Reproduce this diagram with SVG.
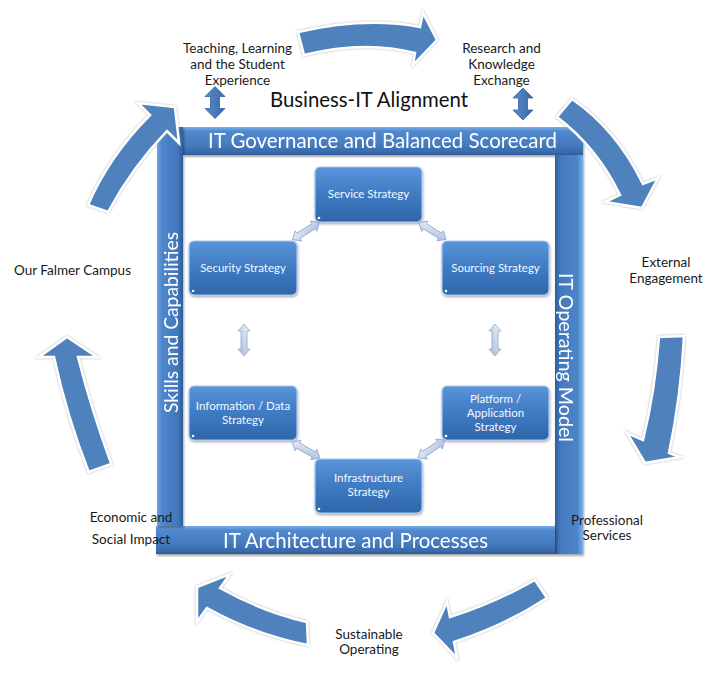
<svg xmlns="http://www.w3.org/2000/svg" width="727" height="677" viewBox="0 0 727 677">
<defs>
  <linearGradient id="gBarH" x1="0" y1="0" x2="0" y2="1">
    <stop offset="0" stop-color="#7aaee8"/>
    <stop offset="0.15" stop-color="#5189cf"/>
    <stop offset="0.6" stop-color="#467cc0"/>
    <stop offset="0.9" stop-color="#3a6aab"/>
    <stop offset="1" stop-color="#2d5a96"/>
  </linearGradient>
  <linearGradient id="gBarL" x1="0" y1="0" x2="1" y2="0">
    <stop offset="0" stop-color="#6ea3e3"/>
    <stop offset="0.2" stop-color="#4e86cc"/>
    <stop offset="0.8" stop-color="#4177bb"/>
    <stop offset="1" stop-color="#2e5c99"/>
  </linearGradient>
  <linearGradient id="gBarR" x1="0" y1="0" x2="1" y2="0">
    <stop offset="0" stop-color="#2f5e9c"/>
    <stop offset="0.2" stop-color="#4479bd"/>
    <stop offset="0.8" stop-color="#4d85cb"/>
    <stop offset="1" stop-color="#7cb0ea"/>
  </linearGradient>
  <linearGradient id="gNode" x1="0" y1="0" x2="0" y2="1">
    <stop offset="0" stop-color="#5a94d9"/>
    <stop offset="0.5" stop-color="#3f7bc3"/>
    <stop offset="1" stop-color="#2e65aa"/>
  </linearGradient>
  <linearGradient id="gLight" x1="0" y1="0" x2="1" y2="1">
    <stop offset="0" stop-color="#f2f5fa"/>
    <stop offset="1" stop-color="#a3b7d6"/>
  </linearGradient>
  <linearGradient id="gDark" x1="0" y1="0" x2="1" y2="0">
    <stop offset="0" stop-color="#5a8ccc"/>
    <stop offset="1" stop-color="#3b68a6"/>
  </linearGradient>
  <filter id="shBar" x="-10%" y="-10%" width="120%" height="120%">
    <feDropShadow dx="1" dy="2" stdDeviation="1.2" flood-color="#000" flood-opacity="0.35"/>
  </filter>
  <filter id="halo" x="-20%" y="-20%" width="140%" height="140%">
    <feDropShadow dx="0" dy="0" stdDeviation="0.9" flood-color="#8a8a8a" flood-opacity="0.7"/>
  </filter>
  <filter id="shNode" x="-10%" y="-10%" width="120%" height="130%">
    <feDropShadow dx="0.5" dy="1.5" stdDeviation="1" flood-color="#000" flood-opacity="0.35"/>
  </filter>
  <polygon id="dblLight" points="-16,0 -9,-6 -9,-3 9,-3 9,-6 16,0 9,6 9,3 -9,3 -9,6"/>
  <polygon id="dblDark" points="0,-16 10,-6 4.5,-6 4.5,6 10,6 0,16 -10,6 -4.5,6 -4.5,-6 -10,-6"/>
</defs>
<style>
  .bar text { font-family: Lato, "Open Sans", "Liberation Sans", sans-serif; fill: #ffffff; }
  .node rect { fill: url(#gNode); stroke: #a9c8ee; stroke-width: 1.2; filter: url(#shNode); }
  .node text { font-family: Lato, "Open Sans", "Liberation Sans", sans-serif; font-size: 11.5px; fill: #f4f8fd; text-anchor: middle; }
  .node circle { fill: #ffffff; }
  .lbl { font-family: Lato, "Open Sans", "Liberation Sans", sans-serif; font-size: 13.5px; fill: #1a1a1a; text-anchor: middle; }
  .big { fill: #4f81bd; stroke: #ffffff; stroke-width: 2.5; stroke-linejoin: miter; filter: url(#halo); }
  .light { fill: url(#gLight); stroke: #8ea7cc; stroke-width: 0.8; }
  .dark { fill: url(#gDark); stroke: #35639f; stroke-width: 0.8; }
</style>
<rect width="727" height="677" fill="#ffffff"/>

<!-- frame bars -->
<g id="bar-governance" class="bar" filter="url(#shBar)">
  <rect x="183" y="127" width="400" height="28" fill="url(#gBarH)"/>
  <text x="208" y="148" font-size="21" textLength="349" lengthAdjust="spacingAndGlyphs">IT Governance and Balanced Scorecard</text>
</g>
<g id="bar-operating" class="bar" filter="url(#shBar)">
  <rect x="555" y="155" width="28" height="399" fill="url(#gBarR)"/>
  <text transform="translate(559,357.5) rotate(90)" font-size="20" text-anchor="middle" textLength="169" lengthAdjust="spacingAndGlyphs">IT Operating Model</text>
</g>
<g id="bar-architecture" class="bar" filter="url(#shBar)">
  <rect x="156" y="526" width="399" height="28" fill="url(#gBarH)"/>
  <text x="223" y="548" font-size="21" textLength="265" lengthAdjust="spacingAndGlyphs">IT Architecture and Processes</text>
</g>
<g id="bar-skills" class="bar" filter="url(#shBar)">
  <rect x="157" y="127" width="26" height="399" fill="url(#gBarL)"/>
  <text transform="translate(178,322.5) rotate(-90)" font-size="20" text-anchor="middle" textLength="181" lengthAdjust="spacingAndGlyphs">Skills and Capabilities</text>
</g>

<!-- title -->
<g id="title">
  <text x="270" y="107" font-family="Lato, 'Open Sans', 'Liberation Sans', sans-serif" font-size="21" fill="#111" textLength="198" lengthAdjust="spacingAndGlyphs">Business-IT Alignment</text>
</g>

<!-- strategy nodes -->
<g id="node-service" class="node">
  <rect x="315" y="167" width="107" height="55" rx="5"/>
  <circle cx="319" cy="218" r="1.3"/>
  <text x="368.5" y="198">Service Strategy</text>
</g>
<g id="node-security" class="node">
  <rect x="189" y="241" width="108" height="54" rx="5"/>
  <circle cx="193" cy="291" r="1.3"/>
  <text x="243" y="272">Security Strategy</text>
</g>
<g id="node-sourcing" class="node">
  <rect x="442" y="241" width="107" height="54" rx="5"/>
  <circle cx="446" cy="291" r="1.3"/>
  <text x="495.5" y="272">Sourcing Strategy</text>
</g>
<g id="node-information" class="node">
  <rect x="189" y="386" width="108" height="54" rx="5"/>
  <circle cx="193" cy="436" r="1.3"/>
  <text x="243" y="410">Information / Data</text>
  <text x="243" y="424">Strategy</text>
</g>
<g id="node-platform" class="node">
  <rect x="442" y="386" width="107" height="54" rx="5"/>
  <circle cx="446" cy="436" r="1.3"/>
  <text x="495.5" y="403">Platform /</text>
  <text x="495.5" y="417">Application</text>
  <text x="495.5" y="431">Strategy</text>
</g>
<g id="node-infrastructure" class="node">
  <rect x="315" y="459" width="107" height="54" rx="5"/>
  <circle cx="319" cy="509" r="1.3"/>
  <text x="368.5" y="482">Infrastructure</text>
  <text x="368.5" y="496">Strategy</text>
</g>

<!-- connectors -->
<g id="connectors">
  <use href="#dblLight" class="light" transform="translate(306,231) rotate(-32.7)"/>
  <use href="#dblLight" class="light" transform="translate(432.5,231) rotate(31.8)"/>
  <use href="#dblLight" class="light" transform="translate(244,340) rotate(90)"/>
  <use href="#dblLight" class="light" transform="translate(495,340) rotate(90)"/>
  <use href="#dblLight" class="light" transform="translate(306,450) rotate(29.7)"/>
  <use href="#dblLight" class="light" transform="translate(431.5,449) rotate(-33.7)"/>
  <use href="#dblDark" class="dark" transform="translate(215,102.5)"/>
  <use href="#dblDark" class="dark" transform="translate(523,104)"/>
</g>

<!-- cycle arrows -->
<g id="cycle-arrows">
  <path class="big" d="M298,32 Q365,16.5 420,27 L423,13 L437,40 L413,65 L415,53 Q364.5,40 304,55 Z"/>
  <path class="big" d="M572,99 Q616.5,129.5 643,184 L658,178 L642,208 L605,202 L620,195 Q597.5,148 557,117 Z"/>
  <path class="big" d="M684,336 Q681,396.5 669,453 L680,457 L645,463 L627,433 L643,440 Q655,391.5 659,337 Z"/>
  <path class="big" d="M535,580 Q493.5,603.5 450,617 L447,602 L433,633 L457,658 L454,642 Q504,626 547,598 Z"/>
  <path class="big" d="M307,622 Q260.5,611 220,588 L230,574 L197,587 L197,622 L207,608 Q254.5,634.5 308,645 Z"/>
  <path class="big" d="M88.7,472 Q66.6,415.4 54,357 L39,357 L67,337 L97,357 L78,357 Q91.3,409.6 111.3,464 Z"/>
  <path class="big" d="M88,205 Q109,156 150,115 L138,103 L175,107 L179,143 L167,131 Q132.5,166.5 108,212 Z"/>
</g>

<!-- cycle labels -->
<g id="label-teaching">
  <text class="lbl" x="237.5" y="53">Teaching, Learning</text>
  <text class="lbl" x="237.5" y="69">and the Student</text>
  <text class="lbl" x="237.5" y="85">Experience</text>
</g>
<g id="label-research">
  <text class="lbl" x="501.5" y="53">Research and</text>
  <text class="lbl" x="501.5" y="69">Knowledge</text>
  <text class="lbl" x="501.5" y="85">Exchange</text>
</g>
<g id="label-external">
  <text class="lbl" x="666" y="267">External</text>
  <text class="lbl" x="666" y="283">Engagement</text>
</g>
<g id="label-professional">
  <text class="lbl" x="607" y="525">Professional</text>
  <text class="lbl" x="607" y="540">Services</text>
</g>
<g id="label-sustainable">
  <text class="lbl" x="369" y="639">Sustainable</text>
  <text class="lbl" x="369" y="654">Operating</text>
</g>
<g id="label-economic">
  <text class="lbl" x="131" y="522">Economic and</text>
  <text class="lbl" x="131" y="544">Social Impact</text>
</g>
<g id="label-falmer">
  <text class="lbl" x="72.5" y="275">Our Falmer Campus</text>
</g>
</svg>
